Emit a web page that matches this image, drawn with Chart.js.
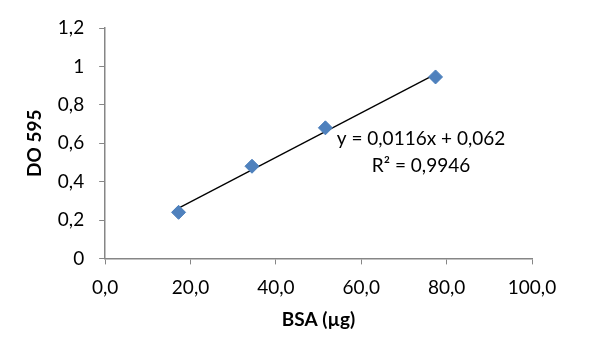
<!DOCTYPE html>
<html>
<head>
<meta charset="utf-8">
<script src="https://cdn.jsdelivr.net/npm/chart.js@4"></script>
<style>
  html, body { margin: 0; padding: 0; background: #fff; }
  #wrap { width: 589px; height: 355px; }
</style>
</head>
<body>
<div id="wrap"><canvas id="chart" width="589" height="355"></canvas></div>
<script>
// BSA standard curve
const bsaValues = [17.2, 34.4, 51.6, 77.4];
const doValues = [0.24, 0.48, 0.68, 0.945];
const trendSlope = 0.0116;
const trendIntercept = 0.062;
const equationLines = ['y = 0,0116x + 0,062', 'R\u00b2 = 0,9946'];

const FONT = 'Lato, "Liberation Sans", sans-serif';
const AXIS_GREY = '#868686';

// trendline across the data range
const xMin = Math.min(...bsaValues);
const xMax = Math.max(...bsaValues);
const trendPoints = [
  { x: xMin, y: trendSlope * xMin + trendIntercept },
  { x: xMax, y: trendSlope * xMax + trendIntercept }
];

const equationLabel = {
  id: 'equationLabel',
  afterDatasetsDraw(chart) {
    const { ctx, scales } = chart;
    const cx = scales.x.getPixelForValue(74);
    const cy = scales.y.getPixelForValue(0.625);
    ctx.save();
    ctx.font = '19px ' + FONT;
    ctx.fillStyle = '#000';
    ctx.textAlign = 'center';
    ctx.textBaseline = 'middle';
    ctx.fillText(equationLines[0], cx, cy);
    ctx.fillText(equationLines[1], cx, cy + 27);
    ctx.restore();
  }
};

const ctx = document.getElementById('chart').getContext('2d');
new Chart(ctx, {
  type: 'scatter',
  data: {
    datasets: [
      {
        label: 'Trend',
        data: trendPoints,
        showLine: true,
        borderColor: '#000',
        borderWidth: 1.3,
        pointRadius: 0,
        fill: false,
        order: 2
      },
      {
        label: 'DO 595',
        data: bsaValues.map((x, i) => ({ x: x, y: doValues[i] })),
        pointStyle: 'rectRot',
        pointRadius: 7,
        backgroundColor: '#4F81BD',
        borderColor: '#4A7EBB',
        borderWidth: 1,
        order: 1
      }
    ]
  },
  plugins: [equationLabel],
  options: {
    responsive: false,
    animation: false,
    layout: { padding: { top: 28, right: 57, left: 23, bottom: 24 } },
    plugins: {
      legend: { display: false },
      tooltip: { enabled: false }
    },
    scales: {
      x: {
        type: 'linear',
        min: 0,
        max: 100,
        ticks: {
          stepSize: 20,
          color: '#000',
          font: { family: FONT, size: 19 },
          padding: 12,
          callback: v => v.toFixed(1).replace('.', ',')
        },
        grid: { drawOnChartArea: false, color: AXIS_GREY, tickLength: 6, lineWidth: 1 },
        border: { color: AXIS_GREY, width: 1.5 },
        title: {
          display: true,
          text: 'BSA (\u00b5g)',
          color: '#000',
          font: { family: FONT, size: 19, weight: 'bold' },
          padding: { top: -3, bottom: 0 }
        }
      },
      y: {
        type: 'linear',
        min: 0,
        max: 1.2,
        ticks: {
          stepSize: 0.2,
          color: '#000',
          font: { family: FONT, size: 19 },
          padding: 15,
          callback: v => String(Math.round(v * 10) / 10).replace('.', ',')
        },
        grid: { drawOnChartArea: false, color: AXIS_GREY, tickLength: 6, lineWidth: 1 },
        border: { color: AXIS_GREY, width: 1.5 },
        title: {
          display: true,
          text: 'DO 595',
          color: '#000',
          font: { family: FONT, size: 19, weight: 'bold' },
          padding: { top: 0, bottom: -3 }
        }
      }
    }
  }
});
</script>
</body>
</html>
